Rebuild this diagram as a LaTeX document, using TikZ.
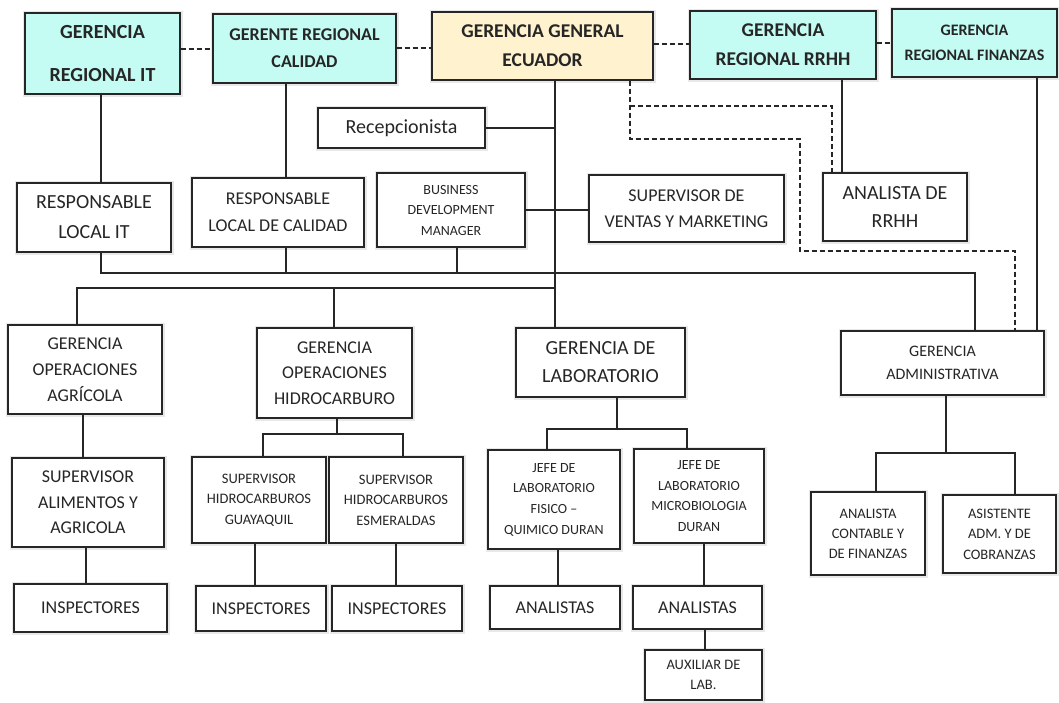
\documentclass[tikz,border=0pt]{standalone}
\usepackage{fontspec}
\setmainfont{Carlito}
\definecolor{cyanbox}{RGB}{196,252,244}
\definecolor{yelbox}{RGB}{255,242,206}
\definecolor{ink}{RGB}{38,38,38}
\newcommand\fs[2]{\fontsize{#1}{#2}\selectfont}
\newcommand\bx[7]{\node[#6, minimum width={#4-#2}, minimum height={#5-#3}] (#1) at ({(#2+#4)/2},{(#3+#5)/2}) {#7};}
\begin{document}
\begin{tikzpicture}[x=1pt,y=-1pt,
  box/.style={draw=ink, line width=1.4pt, fill=white, inner sep=0pt, align=center, text=ink,
    preaction={draw=black!9, line width=5pt}},
  cbox/.style={box, fill=cyanbox},
  ybox/.style={box, fill=yelbox},
  link/.style={draw=ink, line width=1.3pt},
  dlink/.style={link, dash pattern=on 5pt off 3pt}]
\useasboundingbox[fill=white] (0,0) rectangle (1059,702);
% top row
\bx{it}{25}{13}{180}{94}{cbox,font=\fs{20}{43}\bfseries}{GERENCIA\\REGIONAL IT}
\bx{cal}{213}{14}{396}{83}{cbox,font=\fs{18}{27}\bfseries}{GERENTE REGIONAL\\CALIDAD}
\bx{gen}{432}{12}{653}{80}{ybox,font=\fs{19.5}{29}\bfseries}{GERENCIA GENERAL\\ECUADOR}
\bx{rrhh}{690}{11}{876}{79}{cbox,font=\fs{19.5}{29}\bfseries}{GERENCIA\\REGIONAL RRHH}
\bx{fin}{892}{9}{1057}{77}{cbox,font=\fs{16}{25}\bfseries}{GERENCIA\\REGIONAL FINANZAS}
% second level
\bx{rec}{318}{108}{485}{148}{box,font=\fs{20}{24}}{Recepcionista}
\bx{rit}{17}{183}{171}{252}{box,font=\fs{20}{30}}{RESPONSABLE\\LOCAL IT}
\bx{rcal}{192}{178}{364}{247}{box,font=\fs{18}{27}}{RESPONSABLE\\LOCAL DE CALIDAD}
\bx{bus}{377}{173}{525}{247}{box,font=\fs{14}{20.5}}{BUSINESS\\DEVELOPMENT\\MANAGER}
\bx{ven}{589}{175}{784}{242}{box,font=\fs{18}{26}}{SUPERVISOR DE\\VENTAS Y MARKETING}
\bx{anr}{823}{173}{967}{241}{box,font=\fs{20}{28}}{ANALISTA DE\\RRHH}
% third level
\bx{agr}{8}{325}{162}{414}{box,font=\fs{18}{26}}{GERENCIA\\OPERACIONES\\AGRÍCOLA}
\bx{hid}{257}{328}{412}{418}{box,font=\fs{18}{25.5}}{GERENCIA\\OPERACIONES\\HIDROCARBURO}
\bx{lab}{516}{328}{685}{397}{box,font=\fs{20}{28}}{GERENCIA DE\\LABORATORIO}
\bx{adm}{841}{331}{1044}{395}{box,font=\fs{16}{23}}{GERENCIA\\ADMINISTRATIVA}
% fourth level
\bx{sal}{12}{458}{164}{547}{box,font=\fs{18}{25.5}}{SUPERVISOR\\ALIMENTOS Y\\AGRICOLA}
\bx{sg}{192}{457}{326}{543}{box,font=\fs{14.5}{20.5}}{SUPERVISOR\\HIDROCARBUROS\\GUAYAQUIL}
\bx{se}{329}{457}{463}{543}{box,font=\fs{14.5}{20.5}}{SUPERVISOR\\HIDROCARBUROS\\ESMERALDAS}
\bx{j1}{488}{450}{620}{549}{box,font=\fs{14}{20.7}}{JEFE DE\\LABORATORIO\\FISICO –\\QUIMICO DURAN}
\bx{j2}{634}{449}{764}{543}{box,font=\fs{14}{20.7}}{JEFE DE\\LABORATORIO\\MICROBIOLOGIA\\DURAN}
\bx{anc}{811}{492}{925}{575}{box,font=\fs{14.5}{20}}{ANALISTA\\CONTABLE Y\\DE FINANZAS}
\bx{asi}{943}{495}{1056}{573}{box,font=\fs{14.5}{20.5}}{ASISTENTE\\ADM. Y DE\\COBRANZAS}
% fifth level
\bx{ins1}{14}{584}{167}{632}{box,font=\fs{18}{22}}{INSPECTORES}
\bx{ig}{196}{586}{326}{631}{box,font=\fs{18}{22}}{INSPECTORES}
\bx{ie}{332}{586}{462}{631}{box,font=\fs{18}{22}}{INSPECTORES}
\bx{an1}{490}{586}{620}{629}{box,font=\fs{18}{22}}{ANALISTAS}
\bx{an2}{633}{586}{762}{629}{box,font=\fs{18}{22}}{ANALISTAS}
\bx{aux}{645}{650}{762}{700}{box,font=\fs{14.5}{20}}{AUXILIAR DE\\LAB.}
% coordinates
\coordinate (c1) at (975,273);
\coordinate (c2) at (555,288);
\coordinate (dh) at (630,106);
% dashed top links
\draw[dlink] (it.east |- 0,49) -- (cal.west |- 0,49);
\draw[dlink] (cal.east |- 0,48) -- (gen.west |- 0,48);
\draw[dlink] (gen.east |- 0,44) -- (rrhh.west |- 0,44);
\draw[dlink] (rrhh.east |- 0,43) -- (fin.west |- 0,43);
% dashed functional links
\draw[dlink] (gen.south -| dh) |- (800,139) |- (1015,251) -- (adm.north -| 1015,0);
\draw[dlink] (dh) -| (anr.north -| 832,0);
% solid links
\draw[link] (it.south -| 101,0) -- (rit.north -| 101,0);
\draw[link] (cal.south -| 286,0) -- (rcal.north -| 286,0);
\draw[link] (gen.south -| c2) -- (lab.north -| c2);
\draw[link] (rec.east) -- (rec.east -| c2);
\draw[link] (bus.east) -- (bus.east -| ven.west);
\draw[link] (rit.south -| 101,0) |- (c1) -- (adm.north -| c1);
\draw[link] (rcal.south -| 286,0) -- (286,0 |- c1);
\draw[link] (bus.south -| 457,0) -- (457,0 |- c1);
\draw[link] (c2) -| (agr.north -| 77,0);
\draw[link] (334,0 |- c2) -- (hid.north -| 334,0);
\draw[link] (rrhh.south -| 842,0) -- (anr.north -| 842,0);
\draw[link] (fin.south -| 1037,0) -- (adm.north -| 1037,0);
% agricola branch
\draw[link] (agr.south -| 83,0) -- (sal.north -| 83,0);
\draw[link] (sal.south -| 86,0) -- (ins1.north -| 86,0);
% hidrocarburo branch
\draw[link] (hid.south -| 337,0) -- (337,434);
\draw[link] (sg.north -| 263,0) |- (403,434) -- (se.north -| 403,0);
\draw[link] (sg.south -| 255,0) -- (ig.north -| 255,0);
\draw[link] (se.south -| 396,0) -- (ie.north -| 396,0);
% laboratorio branch
\draw[link] (lab.south -| 617,0) -- (617,429);
\draw[link] (j1.north -| 547,0) |- (687,429) -- (j2.north -| 687,0);
\draw[link] (j1.south -| 558,0) -- (an1.north -| 558,0);
\draw[link] (j2.south -| 704,0) -- (an2.north -| 704,0);
\draw[link] (an2.south -| 705,0) -- (aux.north -| 705,0);
% administrativa branch
\draw[link] (adm.south -| 946,0) -- (946,453);
\draw[link] (anc.north -| 876,0) |- (1015,453) -- (asi.north -| 1015,0);
\end{tikzpicture}
\end{document}
